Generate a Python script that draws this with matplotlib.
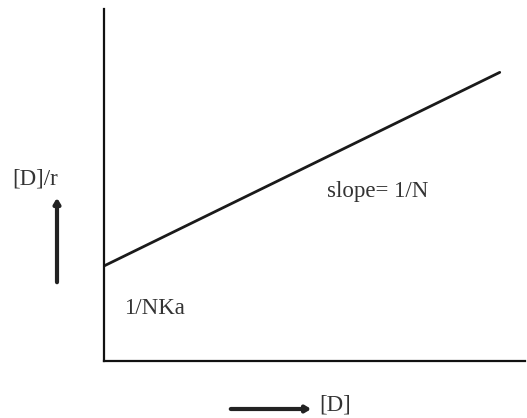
import matplotlib
matplotlib.use("Agg")
import matplotlib.pyplot as plt

# data (arbitrary units)
conc = [0.0, 9.4]
ratio = [2.7, 8.2]

W, H = 527, 418
fig = plt.figure(figsize=(W / 100, H / 100), dpi=100)

# axes placed so the spines sit where they are in the sketch
ax = fig.add_axes([104 / W, (H - 361) / H, (525 - 104) / W, (361 - 9) / H])
ax.plot(conc, ratio, color='#1a1a1a', lw=2.0, solid_capstyle='round')
ax.set_xlim(0, 10)
ax.set_ylim(0, 10)
for s in ['top', 'right']:
    ax.spines[s].set_visible(False)
for s in ['left', 'bottom']:
    ax.spines[s].set_linewidth(1.6)
    ax.spines[s].set_color('#111111')
ax.set_xticks([])
ax.set_yticks([])

font = dict(family='Liberation Serif', fontsize=16.5, color='#333333')

fig.text(327 / W, (H - 192) / H, 'slope= 1/N', va='center', ha='left', **font)
fig.text(124 / W, (H - 309) / H, '1/NKa', va='center', ha='left', **font)
fig.text(12 / W, (H - 179) / H, '[D]/r', va='center', ha='left', **font)
fig.text(319 / W, (H - 405) / H, '[D]', va='center', ha='left', **font)

# axis arrows
arrow = dict(arrowstyle='-|>,head_length=0.3,head_width=0.18', color='#222222', lw=3)
ax.annotate('', xy=(57, H - 195), xytext=(57, H - 285),
            xycoords='figure pixels', textcoords='figure pixels', arrowprops=arrow)
ax.annotate('', xy=(314, H - 409), xytext=(228, H - 409),
            xycoords='figure pixels', textcoords='figure pixels', arrowprops=arrow)

fig.savefig('out.png', dpi=100)
